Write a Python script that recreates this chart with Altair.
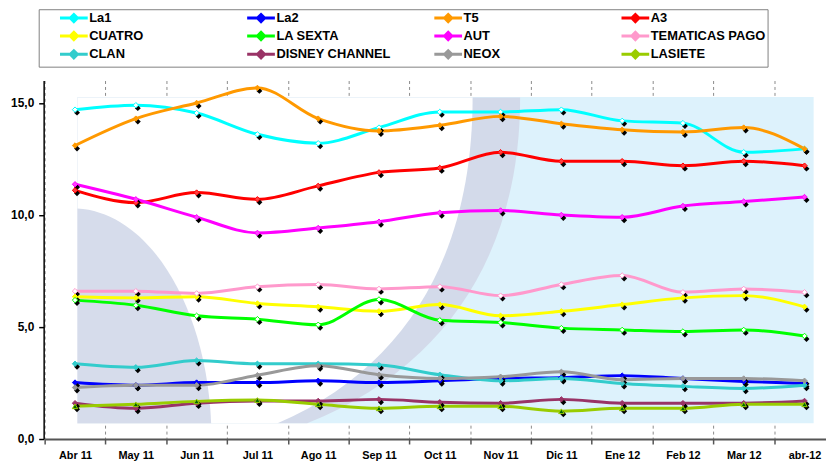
import altair as alt
import pandas as pd

months = ["Abr 11", "May 11", "Jun 11", "Jul 11", "Ago 11", "Sep 11", "Oct 11",
          "Nov 11", "Dic 11", "Ene 12", "Feb 12", "Mar 12", "abr-12"]

series_names = ["La1", "La2", "T5", "A3", "CUATRO", "LA SEXTA", "AUT",
                "TEMATICAS PAGO", "CLAN", "DISNEY CHANNEL", "NEOX", "LASIETE"]

la1 = [14.7, 14.9, 14.55, 13.6, 13.2, 13.9, 14.6, 14.6, 14.7, 14.2, 14.1, 12.8, 12.95]
la2 = [2.52, 2.4, 2.52, 2.52, 2.6, 2.52, 2.6, 2.7, 2.74, 2.83, 2.7, 2.57, 2.48]
t5 = [13.1, 14.3, 15.0, 15.67, 14.3, 13.75, 14.0, 14.4, 14.07, 13.8, 13.7, 13.9, 12.95]
a3 = [11.1, 10.55, 11.0, 10.7, 11.3, 11.9, 12.1, 12.8, 12.4, 12.4, 12.2, 12.4, 12.2]
cuatro = [6.35, 6.3, 6.35, 6.05, 5.9, 5.7, 6.0, 5.5, 5.7, 6.0, 6.3, 6.4, 5.9]
lasexta = [6.2, 5.97, 5.5, 5.35, 5.1, 6.23, 5.3, 5.2, 4.95, 4.87, 4.8, 4.87, 4.6]
aut = [11.37, 10.7, 9.9, 9.2, 9.42, 9.7, 10.1, 10.2, 10.0, 9.9, 10.4, 10.6, 10.8]
tematicas = [6.6, 6.6, 6.5, 6.8, 6.9, 6.7, 6.8, 6.4, 6.9, 7.3, 6.55, 6.7, 6.55]
clan = [3.36, 3.2, 3.5, 3.36, 3.36, 3.3, 2.87, 2.6, 2.7, 2.48, 2.35, 2.26, 2.4]
disney = [1.6, 1.37, 1.6, 1.7, 1.7, 1.77, 1.64, 1.6, 1.77, 1.6, 1.6, 1.6, 1.7]
neox = [2.3, 2.4, 2.4, 2.85, 3.27, 2.87, 2.7, 2.78, 3.0, 2.65, 2.7, 2.7, 2.6]
lasiete = [1.46, 1.55, 1.68, 1.74, 1.55, 1.37, 1.46, 1.46, 1.24, 1.37, 1.37, 1.55, 1.55]

series_values = [la1, la2, t5, a3, cuatro, lasexta, aut, tematicas, clan, disney, neox, lasiete]

line_colors = ["#00FFFF", "#0000FF", "#FF9900", "#FF0000", "#FFFF00", "#00FF00",
               "#FF00FF", "#FF99CC", "#33CCCC", "#993366", "#999999", "#99CC00"]
marker_fills = ["#FFFFFF", "#0000FF", "#FF9900", "#FF4040", "#FFFF00", "#FFFFFF",
                "#FF40FF", "#FFFFFF", "#33CCCC", "#993366", "#999999", "#006600"]

rows = []
for k, (name, vals) in enumerate(zip(series_names, series_values)):
    for m, v in zip(months, vals):
        rows.append({"serie": name, "mes": m, "valor": v, "orden": k,
                     "lc": line_colors[k], "mf": marker_fills[k]})
df = pd.DataFrame(rows)

FONT = "Liberation Sans"
Y_DOMAIN = [0, 16]
X_RANGE = [1, 799]

x_enc = alt.X("mes:N", sort=months,
              scale=alt.Scale(domain=months, range=X_RANGE, paddingInner=0, paddingOuter=0),
              axis=alt.Axis(title=None, labelAngle=0, tickBand="extent", grid=True,
                            gridDash=[3, 3], gridColor="#8a8a8a", gridWidth=1,
                            domainColor="#555555", domainWidth=2, tickColor="#555555",
                            tickSize=5, tickWidth=1.5, labelFont=FONT, labelFontWeight="bold",
                            labelFontSize=11, labelColor="black", labelPadding=6))
y_enc = alt.Y("valor:Q", scale=alt.Scale(domain=Y_DOMAIN, nice=False, zero=True),
              axis=alt.Axis(title=None, values=[0, 5, 10, 15], grid=False,
                            labelExpr="replace(format(datum.value, '.1f'), '.', ',')",
                            domainColor="black", domainWidth=1.5, tickColor="black",
                            tickSize=5, tickWidth=1.5, labelFont=FONT, labelFontWeight="bold",
                            labelFontSize=12, labelColor="black", labelPadding=5))

legend_symbol = "M-3.5,0L3.5,0M0,-0.9L0.9,0L0,0.9L-0.9,0Z"
shadow_path = "M0.5,0L1.25,0.75L0.5,1.5L-0.25,0.75Z"

base = alt.Chart(df)

lines = base.mark_line(interpolate="monotone", strokeWidth=3).encode(
    x=x_enc, y=y_enc,
    color=alt.Color("serie:N", sort=series_names,
                    scale=alt.Scale(domain=series_names, range=line_colors),
                    legend=alt.Legend(title=None, orient="none", legendX=-5, legendY=-72,
                                      columns=4, direction="horizontal", gridAlign="all",
                                      columnPadding=24, rowPadding=-2.5, padding=2,
                                      strokeColor="#808080", fillColor="white",
                                      symbolType=legend_symbol, symbolSize=64,
                                      symbolStrokeWidth=3, symbolOffset=27, labelOffset=9,
                                      labelFont=FONT, labelFontWeight="bold",
                                      labelFontSize=13, labelColor="black",
                                      labelLimit=200)),
    order=alt.Order("orden:Q"),
)

shadows = base.mark_point(shape=shadow_path, size=64, filled=True, color="black",
                          opacity=1, strokeWidth=0).encode(x=x_enc, y=y_enc)

diamonds = base.transform_filter(alt.datum.serie != "LASIETE").mark_point(
    shape="diamond", filled=True, size=30, strokeWidth=1, opacity=1).encode(
    x=x_enc, y=y_enc,
    fill=alt.Fill("mf:N", scale=None),
    stroke=alt.Stroke("lc:N", scale=None),
)
triangles = base.transform_filter(alt.datum.serie == "LASIETE").mark_point(
    shape="triangle-up", filled=True, size=30, strokeWidth=1, opacity=1).encode(
    x=x_enc, y=y_enc,
    fill=alt.Fill("mf:N", scale=None),
    stroke=alt.Stroke("lc:N", scale=None),
)

main = alt.layer(lines, shadows, diamonds, triangles)

# ---- decorative background picture (panel, swoosh, slate curve) ----
dx_scale = alt.Scale(domain=[0, 13], range=X_RANGE, nice=False, zero=False)
dy_scale = alt.Scale(domain=Y_DOMAIN, nice=False)

panel_df = pd.DataFrame({"x0": [0.54], "x1": [12.65], "y0": [0.7], "y1": [15.27]})
panel = alt.Chart(panel_df).mark_rect(color="#DDF2FC").encode(
    x=alt.X("x0:Q", scale=dx_scale, axis=None), x2="x1",
    y=alt.Y("y0:Q", scale=dy_scale, axis=None), y2="y1")

anchor_df = pd.DataFrame({"ax": [0.54], "ay": [0.7]})
swoosh_outer = "M0,0L2.32,0C3.8,-0.6 4.47,-1.8 4.47,-3.29L0,-3.29Z"
swoosh_inner = "M0,0L2.02,0C3.4,-0.6 3.99,-1.8 3.99,-3.29L0,-3.29Z"
corner_arc = "M0,0L0,-2.17A1.4,2.33 0 0 1 1.35,0Z"


def deco_shape(path, colour):
    return alt.Chart(anchor_df).mark_point(shape=path, size=40000, filled=True,
                                           color=colour, opacity=1, strokeWidth=0).encode(
        x=alt.X("ax:Q", scale=dx_scale, axis=None),
        y=alt.Y("ay:Q", scale=dy_scale, axis=None))


deco = alt.layer(panel,
                 deco_shape(swoosh_outer, "#D3DAEA"),
                 deco_shape(swoosh_inner, "#FFFFFF"),
                 deco_shape(corner_arc, "#D6DCEB"))

chart = alt.layer(deco, main).resolve_scale(x="independent", y="independent").properties(
    width=790, height=362,
    autosize=alt.AutoSizeParams(type="none"),
    padding={"left": 36, "top": 71, "right": 0, "bottom": 26},
    background="white",
).configure_view(stroke=None)

chart.save("out.html", embed_options={"renderer": "svg", "actions": False})
